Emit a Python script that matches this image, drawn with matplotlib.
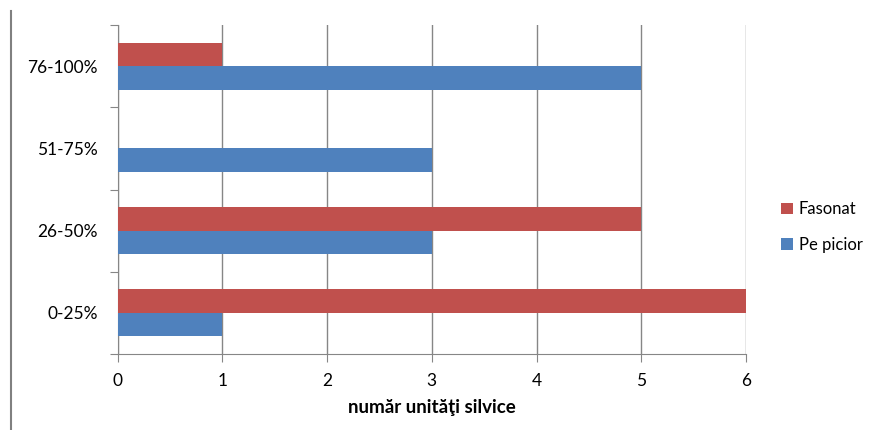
import numpy as np
import matplotlib
matplotlib.use("Agg")
import matplotlib.pyplot as plt
from matplotlib.lines import Line2D
from matplotlib.patches import Patch

plt.rcParams['font.family'] = ['Lato', 'DejaVu Sans']

# data
categories = ["0-25%", "26-50%", "51-75%", "76-100%"]
pe_picior = [1, 3, 3, 5]
fasonat = [6, 5, 0, 1]
x_ticks = [0, 1, 2, 3, 4, 5, 6]

red = "#C0504D"
blue = "#4F81BD"
grey = "#868686"

fig = plt.figure(figsize=(8.73, 4.30), dpi=100)
ax = fig.add_axes([117.5 / 873, 1 - 354 / 430, (746 - 117.5) / 873, (354 - 25) / 430])

y = np.arange(len(categories))
h = 1 / 3.5
ax.barh(y - h / 2, pe_picior, height=h, color=blue, zorder=3)
ax.barh(y + h / 2, fasonat, height=h, color=red, zorder=3)

ax.set_xlim(0, 6)
ax.set_ylim(-0.5, 3.5)
ax.set_xticks(x_ticks)
ax.set_xticklabels([str(v) for v in x_ticks], fontsize=12.5)
ax.xaxis.grid(True, color=grey, linewidth=1, zorder=0)

# category borders as ticks, labels in the middle
ax.set_yticks(np.arange(-0.5, 4, 1))
ax.set_yticklabels([])
ax.set_yticks(y, minor=True)
ax.set_yticklabels(categories, minor=True, fontsize=12.5)
ax.tick_params(axis='y', which='minor', length=0, pad=14)
ax.tick_params(axis='y', which='major', length=6, color=grey, direction='out')
ax.tick_params(axis='x', length=6, color=grey, direction='out', pad=8)

for s in ['top', 'right']:
    ax.spines[s].set_visible(False)
for s in ['left', 'bottom']:
    ax.spines[s].set_color(grey)

ax.set_xlabel("număr unităţi silvice", fontsize=13.5, fontweight='bold', labelpad=7)

handles = [Patch(facecolor=red, label="Fasonat"), Patch(facecolor=blue, label="Pe picior")]
fig.legend(handles=handles, loc='center left', bbox_to_anchor=(778 / 873, 1 - 227 / 430),
           frameon=False, fontsize=12, handlelength=0.7, handleheight=0.7,
           handletextpad=0.35, labelspacing=1.15, borderaxespad=0, borderpad=0.2)

fig.add_artist(Line2D([11 / 873, 11 / 873], [0, 1 - 11 / 430], color="#808080", linewidth=1.5))

fig.savefig("out.png", dpi=100)
